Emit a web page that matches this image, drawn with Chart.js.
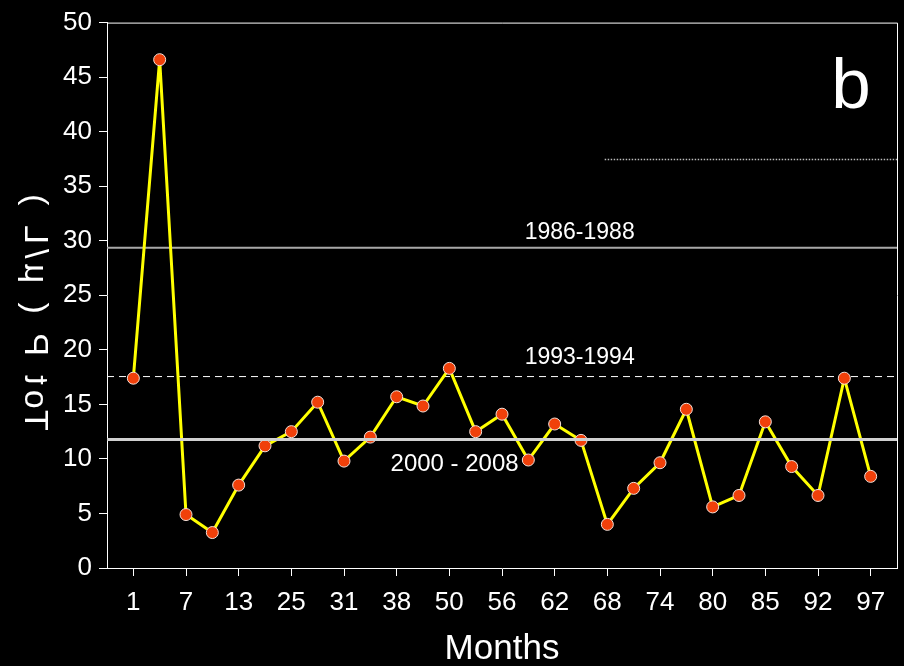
<!DOCTYPE html>
<html>
<head>
<meta charset="utf-8">
<script src="https://cdn.jsdelivr.net/npm/chart.js@4"></script>
<style>
  html, body { margin: 0; padding: 0; background: #000; }
  #wrap { width: 904px; height: 666px; }
</style>
</head>
<body>
<div id="wrap"><canvas id="c" width="904" height="666"></canvas></div>
<script>
// ---- data ----
const tickLabels = ['1','7','13','25','31','38','50','56','62','68','74','80','85','92','97'];
const totP = [17.4, 46.6, 4.9, 3.25, 7.6, 11.2, 12.5, 15.2, 9.8, 12.0, 15.7, 14.85, 18.3, 12.5, 14.1,
              9.9, 13.2, 11.7, 4.0, 7.3, 9.65, 14.55, 5.6, 6.65, 13.4, 9.3, 6.65, 17.4, 8.4];
const ref1986 = 29.35;   // 1986-1988 mean
const ref1993 = 17.55;   // 1993-1994 mean
const ref2000 = 11.78;   // 2000-2008 mean
const refDotted = 37.45; // dotted line
const yTitle = 'Tot P ( µ/L )';
const xTitle = 'Months';
const panelLetter = 'b';

const FAMILY = "'Liberation Sans', Arial, sans-serif";
const points = totP.map((v, i) => ({ x: i + 1, y: v }));
const tickPositions = tickLabels.map((_, i) => 2 * i + 1);
const xMax = totP.length + 1;

const overlay = {
  id: 'overlay',
  beforeDraw(chart) {
    const ctx = chart.ctx;
    ctx.save();
    ctx.fillStyle = '#000';
    ctx.fillRect(0, 0, chart.width, chart.height);
    ctx.restore();
  },
  afterDraw(chart) {
    const ctx = chart.ctx;
    const xs = chart.scales.x, ys = chart.scales.y;
    const a = chart.chartArea;
    ctx.save();
    // frame top & right
    ctx.strokeStyle = '#fff';
    ctx.lineWidth = 1;
    ctx.beginPath();
    ctx.moveTo(a.left, a.top + 0.5);
    ctx.lineTo(a.right + 0.5, a.top + 0.5);
    ctx.lineTo(a.right + 0.5, a.bottom);
    ctx.stroke();
    // period labels
    ctx.fillStyle = '#fff';
    ctx.font = '23px ' + FAMILY;
    ctx.textAlign = 'center';
    ctx.textBaseline = 'bottom';
    ctx.fillText('1986-1988', xs.getPixelForValue(17.95), ys.getPixelForValue(ref1986) - 4);
    ctx.fillText('1993-1994', xs.getPixelForValue(17.95), ys.getPixelForValue(ref1993) - 7);
    ctx.font = '24px ' + FAMILY;
    ctx.textBaseline = 'top';
    ctx.fillText('2000 - 2008', xs.getPixelForValue(13.2), ys.getPixelForValue(ref2000) + 13);
    // panel letter
    ctx.font = '71px ' + FAMILY;
    ctx.textBaseline = 'alphabetic';
    ctx.fillText(panelLetter, xs.getPixelForValue(28.25), ys.getPixelForValue(42.2));
    // y-axis title (rotated, mirrored as in the original)
    ctx.save();
    ctx.translate(25, 310);
    ctx.rotate(-Math.PI / 2);
    ctx.scale(1, -1);
    ctx.font = '34px ' + FAMILY;
    try { ctx.letterSpacing = '5px'; } catch (e) {}
    ctx.textAlign = 'center';
    ctx.textBaseline = 'alphabetic';
    ctx.fillText(yTitle, 0, 0);
    ctx.restore();
    ctx.restore();
  }
};

new Chart(document.getElementById('c'), {
  type: 'line',
  data: {
    datasets: [
      {
        data: [{ x: 0, y: ref2000 }, { x: xMax, y: ref2000 }],
        borderColor: '#d0d0d0', borderWidth: 3, pointRadius: 0, order: 0
      },
      {
        data: points,
        borderColor: '#ffff00', borderWidth: 3,
        pointRadius: 6, pointBackgroundColor: '#f0400a',
        pointBorderColor: '#f4e0d8', pointBorderWidth: 1, order: 1
      },
      {
        data: [{ x: 0, y: ref1986 }, { x: xMax, y: ref1986 }],
        borderColor: '#a8a8a8', borderWidth: 2, pointRadius: 0, order: 2
      },
      {
        data: [{ x: 0, y: ref1993 }, { x: xMax, y: ref1993 }],
        borderColor: '#ffffff', borderWidth: 1, borderDash: [7, 5], pointRadius: 0, order: 3
      },
      {
        data: [{ x: 18.9, y: refDotted }, { x: xMax, y: refDotted }],
        borderColor: '#bbbbbb', borderWidth: 1.5, borderDash: [1.5, 1.5], pointRadius: 0, order: 4
      }
    ]
  },
  options: {
    responsive: false,
    animation: false,
    events: [],
    layout: { padding: { top: 19, right: 7, left: 0, bottom: 0 } },
    plugins: { legend: { display: false }, tooltip: { enabled: false }, title: { display: false } },
    scales: {
      x: {
        type: 'linear', min: 0, max: xMax,
        afterBuildTicks: s => { s.ticks = tickPositions.map(v => ({ value: v })); },
        afterFit: s => { s.height = 98; },
        ticks: {
          callback: v => tickLabels[(v - 1) / 2],
          autoSkip: false, maxRotation: 0, padding: 11,
          color: '#fff', font: { size: 26, family: FAMILY }
        },
        grid: { drawOnChartArea: false, color: '#fff', tickLength: 8, lineWidth: 1 },
        border: { color: '#fff', width: 1 },
        title: { display: true, text: xTitle, color: '#fff', font: { size: 35, family: FAMILY }, padding: { top: 0, bottom: -4 } }
      },
      y: {
        min: 0, max: 50,
        afterFit: s => { s.width = 107; },
        ticks: { stepSize: 5, padding: 7, color: '#fff', font: { size: 26, family: FAMILY } },
        grid: { drawOnChartArea: false, color: '#fff', tickLength: 8, lineWidth: 1 },
        border: { color: '#fff', width: 1 }
      }
    }
  },
  plugins: [overlay]
});
</script>
</body>
</html>
